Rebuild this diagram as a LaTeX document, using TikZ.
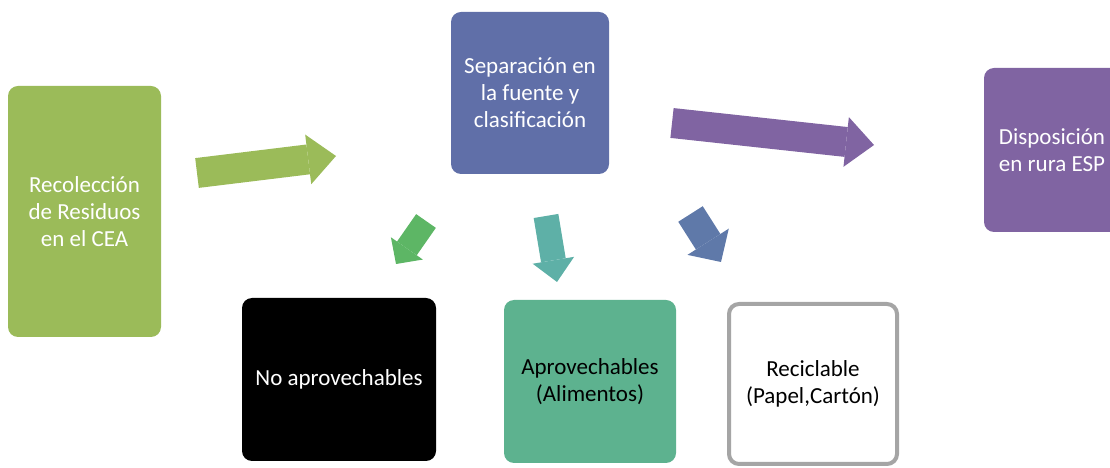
\documentclass[tikz,border=0pt]{standalone}
\usepackage{fontspec}
\setmainfont{Carlito}
\usetikzlibrary{
    positioning,
    arrows.meta
}
\definecolor{recgreen}{HTML}{9BBB59}
\definecolor{sepblue}{HTML}{606FA8}
\definecolor{disppurple}{HTML}{8064A2}
\definecolor{aprovteal}{HTML}{5DB28F}
\definecolor{recicgray}{HTML}{A5A5A5}
\definecolor{arrgreen}{HTML}{5DB665}
\definecolor{arrteal}{HTML}{5EB0A7}
\definecolor{arrblue}{HTML}{5F79A9}
\tikzset{
    box/.style={
        rounded corners=10pt,
        align=center,
        inner sep=4pt,
        font=\fontsize{23}{27}\selectfont
    },
    blockarrow/.style args={#1/#2/#3}{
        line width=#1,
        -{Triangle[length=#2,width=#3,line width=0pt]}
    }
}

\begin{document}
\begin{tikzpicture}[
    x=1pt,
    y=1pt
]
    \useasboundingbox (0,0) rectangle (1110,468);
    \clip (0,0) rectangle (1110,468);

    % Cajas
    \node[box, fill=recgreen, text=white, minimum width=153pt, minimum height=251pt]
        (rec) at (84.5,256.5) {Recolección\\de Residuos\\en el CEA};
    \node[box, fill=sepblue, text=white, minimum width=158pt, minimum height=162pt]
        (sep) at (530,375) {Separación en\\la fuente y\\clasificación};
    \node[box, fill=disppurple, text=white, minimum width=136pt, minimum height=164pt]
        (disp) at (1052,318) {Disposición\\en rura ESP};
    \node[box, fill=black, text=white, minimum width=194pt, minimum height=163pt]
        (noap) at (339,88.5) {No aprovechables};
    \node[box, fill=aprovteal, text=black, minimum width=172pt, minimum height=163pt]
        (aprov) at (590,86.5) {Aprovechables\\(Alimentos)};
    \node[box, draw=recicgray, line width=4pt, fill=white, text=black,
          minimum width=168pt, minimum height=160pt]
        (recic) at (813,84) {Reciclable\\(Papel,Cartón)};

    % Extremos de las flechas
    \coordinate (recA)   at (197,295);
    \coordinate (recB)   at (336,312);
    \coordinate (dispA)  at (672,345);
    \coordinate (dispB)  at (874,323);
    \coordinate (noapA)  at (426,247);
    \coordinate (noapB)  at (396,204);
    \coordinate (aprovA) at (546,252);
    \coordinate (aprovB) at (557,186);
    \coordinate (recicA) at (690.5,254);
    \coordinate (recicB) at (721,206);

    % Flechas
    \draw[blockarrow=30pt/28pt/50pt, draw=recgreen]   (recA)   -- (recB);
    \draw[blockarrow=30pt/28pt/50pt, draw=disppurple] (dispA)  -- (dispB);
    \draw[blockarrow=24pt/19pt/39pt, draw=arrgreen]   (noapA)  -- (noapB);
    \draw[blockarrow=25pt/22pt/42pt, draw=arrteal]    (aprovA) -- (aprovB);
    \draw[blockarrow=29pt/24pt/49pt, draw=arrblue]    (recicA) -- (recicB);

\end{tikzpicture}
\end{document}
